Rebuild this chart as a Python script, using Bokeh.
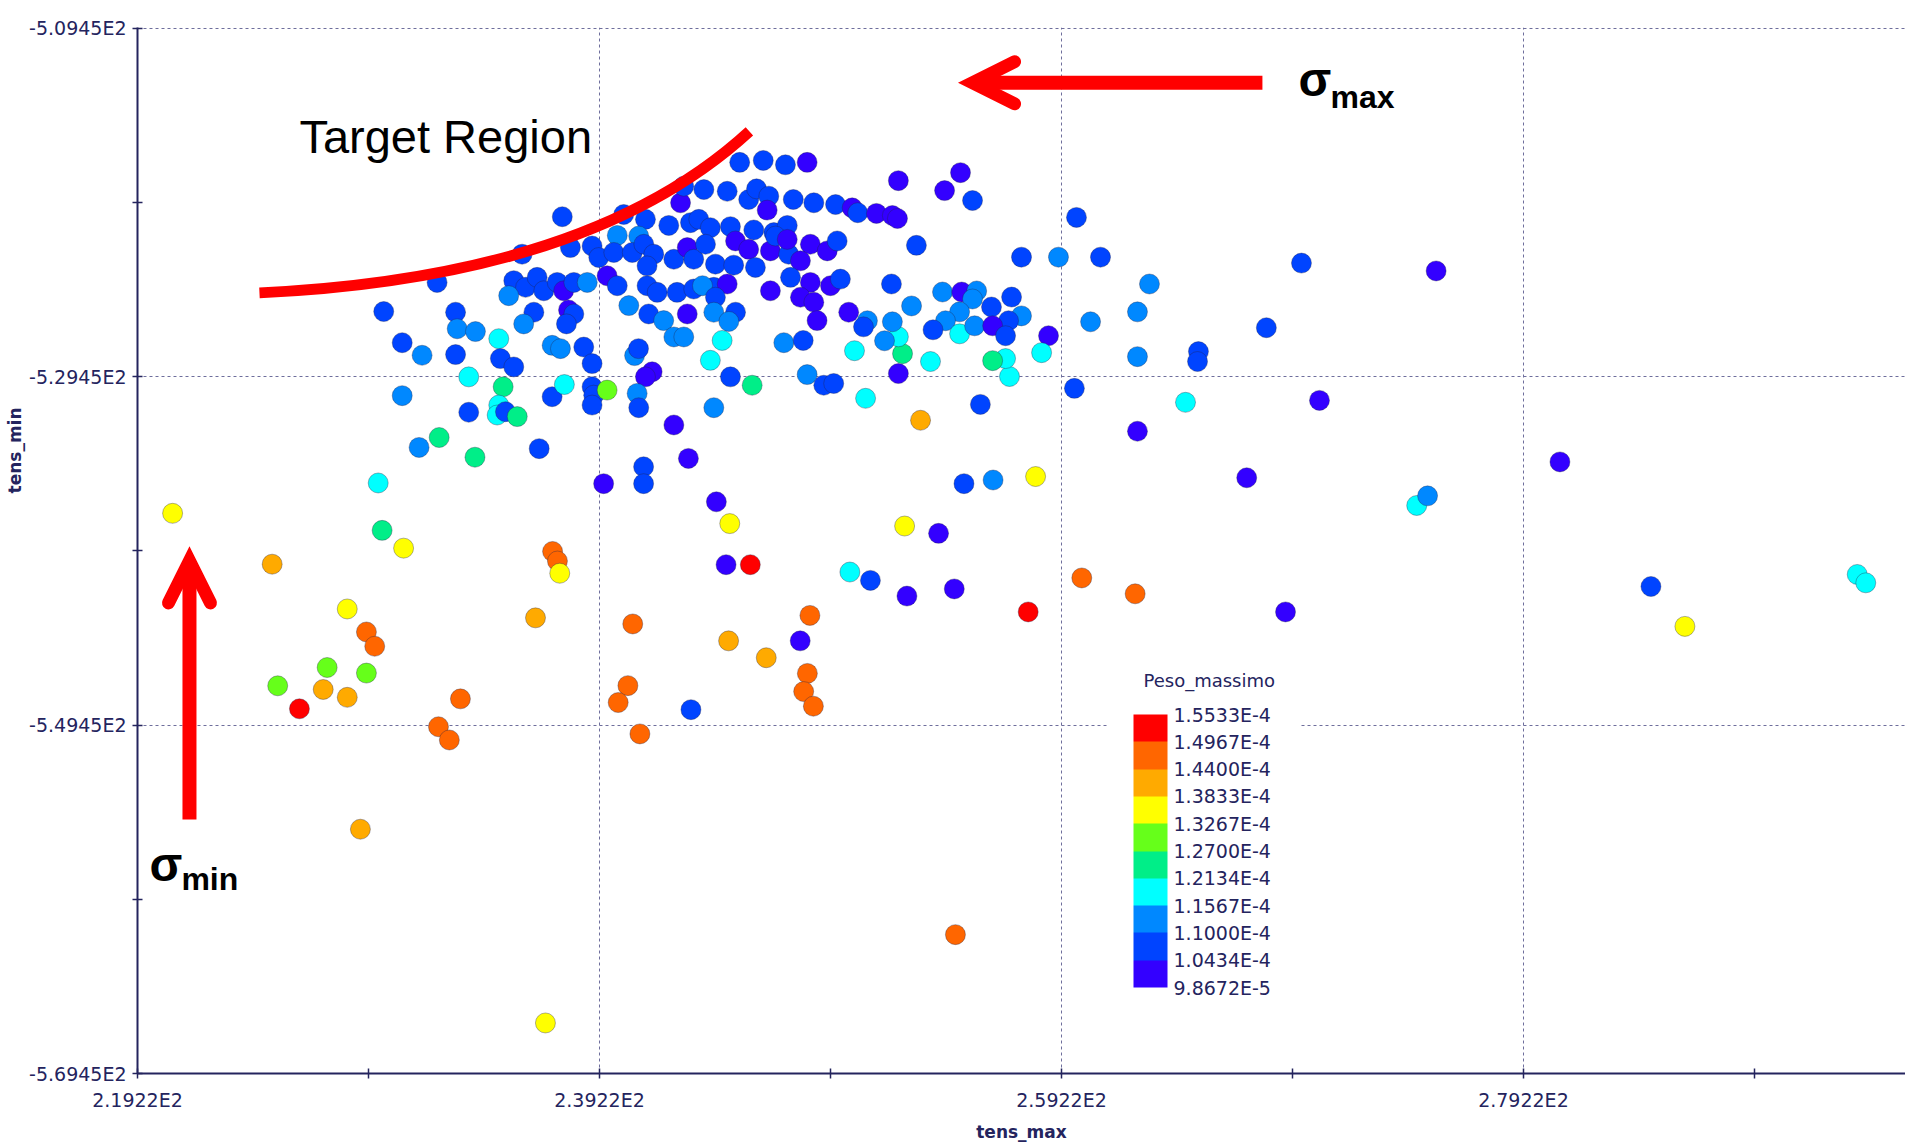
import math
from bokeh.plotting import figure
from bokeh.models import (Range1d, FixedTicker, CustomJSTickFormatter, LinearColorMapper,
                          ColorBar, ColumnDataSource, Label, Arrow, OpenHead, Title)
from bokeh.embed import file_html
from bokeh.resources import INLINE

# ---------------- data ----------------
X_MAJOR = [219.22, 239.22, 259.22, 279.22]
X_MINOR = [229.22, 249.22, 269.22, 289.22]
Y_MAJOR = [-569.45, -549.45, -529.45, -509.45]
Y_MINOR = [-559.45, -539.45, -519.45]
CB_TICKS = [9.8672e-5, 1.0434e-4, 1.1000e-4, 1.1567e-4, 1.2134e-4, 1.2700e-4,
            1.3267e-4, 1.3833e-4, 1.4400e-4, 1.4967e-4, 1.5533e-4]
PALETTE = ["#3300ff", "#0044ff", "#0088ff", "#00ffff", "#00ee88",
           "#66ff1a", "#ffff00", "#ffaa00", "#ff6600", "#ff0000"]

# dense core of the cloud
CORE_MAX = [
    245.29, 246.31, 247.27, 248.21, 243.74, 244.75, 245.68, 246.02,
    246.55, 246.48, 242.73, 242.87, 247.61, 248.50, 249.44, 250.16,
    237.61, 240.27, 241.21, 242.22, 243.16, 243.52, 244.02, 244.89,
    245.90, 246.77, 247.35, 239.99, 240.92, 235.87, 237.96, 238.90,
    239.19, 239.84, 240.64, 241.14, 241.57, 242.44, 243.02, 243.30,
    243.81, 244.24, 245.11, 245.68, 245.03, 245.97, 246.62, 246.84,
    247.41, 247.35, 248.35, 249.08, 249.51, 247.92, 241.28, 232.19,
    235.51, 236.02, 236.52, 236.81, 237.39, 237.67, 238.11, 238.69,
    235.29, 239.55, 239.99, 241.28, 241.72, 242.58, 243.30, 244.17,
    243.68, 244.75, 244.24, 246.62, 247.49, 248.35, 249.22, 249.65,
    247.92, 248.50, 250.01, 229.88, 232.99, 236.38, 235.94, 237.88,
    238.11, 237.79, 240.49, 241.35, 242.00, 243.02, 244.17, 245.11,
    244.82, 248.64, 233.06, 233.85, 230.68, 231.54, 232.99, 234.86,
    234.93, 235.51, 237.17, 237.53, 238.54, 238.90, 240.74, 240.91,
    241.50, 241.21, 242.44, 242.87, 244.53, 244.02, 247.20, 248.04,
    233.56, 230.68, 233.56, 235.05, 234.86, 234.79, 235.15, 235.66,
    232.28, 237.17, 237.70, 238.90, 238.97, 238.90, 239.55, 240.85,
    240.92, 242.44, 244.17, 244.89, 245.83, 248.21, 248.93, 249.36]
CORE_MIN = [
    -517.16, -517.05, -517.30, -517.16, -518.72, -518.82, -519.29, -518.68,
    -519.10, -519.90, -519.48, -518.53, -519.29, -519.48, -519.58, -519.77,
    -520.28, -520.15, -520.43, -520.78, -520.62, -520.43, -520.91, -520.85,
    -521.04, -521.19, -520.78, -521.35, -521.39, -522.43, -522.05, -521.96,
    -522.62, -522.33, -522.33, -521.86, -522.43, -522.72, -522.05, -522.72,
    -521.86, -523.00, -521.67, -522.15, -523.06, -523.19, -522.24, -521.39,
    -522.43, -521.58, -521.86, -522.24, -521.67, -522.81, -523.10, -524.05,
    -523.95, -524.33, -523.76, -524.53, -524.05, -524.53, -524.05, -524.05,
    -524.81, -523.67, -524.24, -524.24, -524.62, -524.62, -524.43, -524.33,
    -524.24, -524.14, -524.90, -524.53, -523.76, -524.05, -524.24, -523.86,
    -524.90, -525.19, -525.76, -525.72, -525.76, -525.76, -526.43, -525.63,
    -525.86, -526.43, -525.38, -525.86, -526.24, -525.86, -525.76, -525.76,
    -526.29, -526.24, -526.71, -526.87, -527.51, -528.23, -528.19, -527.28,
    -528.42, -528.90, -527.66, -527.85, -527.76, -528.71, -528.25, -527.85,
    -529.18, -529.47, -527.18, -527.18, -527.38, -528.52, -527.51, -527.38,
    -529.47, -530.55, -531.50, -530.04, -531.09, -531.66, -531.47, -531.75,
    -532.95, -530.61, -529.91, -530.04, -530.52, -531.09, -530.23, -530.42,
    -531.24, -532.23, -531.24, -529.47, -529.95, -529.34, -529.95, -529.85]
CORE_PESO = [
    1.072e-4, 1.072e-4, 1.072e-4, 1.015e-4, 1.072e-4, 1.072e-4, 1.072e-4, 1.072e-4,
    1.072e-4, 1.015e-4, 1.015e-4, 1.072e-4, 1.072e-4, 1.072e-4, 1.072e-4, 1.015e-4,
    1.072e-4, 1.072e-4, 1.072e-4, 1.072e-4, 1.072e-4, 1.072e-4, 1.072e-4, 1.072e-4,
    1.072e-4, 1.072e-4, 1.072e-4, 1.128e-4, 1.128e-4, 1.072e-4, 1.072e-4, 1.072e-4,
    1.072e-4, 1.072e-4, 1.072e-4, 1.072e-4, 1.072e-4, 1.072e-4, 1.015e-4, 1.072e-4,
    1.072e-4, 1.072e-4, 1.015e-4, 1.015e-4, 1.072e-4, 1.072e-4, 1.015e-4, 1.072e-4,
    1.072e-4, 1.015e-4, 1.015e-4, 1.015e-4, 1.072e-4, 1.015e-4, 1.072e-4, 1.072e-4,
    1.072e-4, 1.072e-4, 1.072e-4, 1.072e-4, 1.072e-4, 1.015e-4, 1.072e-4, 1.128e-4,
    1.128e-4, 1.015e-4, 1.072e-4, 1.072e-4, 1.072e-4, 1.072e-4, 1.072e-4, 1.072e-4,
    1.128e-4, 1.015e-4, 1.072e-4, 1.015e-4, 1.072e-4, 1.015e-4, 1.015e-4, 1.072e-4,
    1.015e-4, 1.015e-4, 1.015e-4, 1.072e-4, 1.072e-4, 1.072e-4, 1.128e-4, 1.015e-4,
    1.072e-4, 1.072e-4, 1.128e-4, 1.072e-4, 1.128e-4, 1.015e-4, 1.128e-4, 1.072e-4,
    1.128e-4, 1.015e-4, 1.128e-4, 1.128e-4, 1.072e-4, 1.128e-4, 1.072e-4, 1.185e-4,
    1.072e-4, 1.072e-4, 1.128e-4, 1.128e-4, 1.072e-4, 1.072e-4, 1.128e-4, 1.072e-4,
    1.015e-4, 1.015e-4, 1.128e-4, 1.128e-4, 1.185e-4, 1.185e-4, 1.128e-4, 1.072e-4,
    1.185e-4, 1.128e-4, 1.072e-4, 1.242e-4, 1.185e-4, 1.185e-4, 1.072e-4, 1.242e-4,
    1.242e-4, 1.072e-4, 1.185e-4, 1.072e-4, 1.072e-4, 1.072e-4, 1.298e-4, 1.128e-4,
    1.072e-4, 1.015e-4, 1.128e-4, 1.072e-4, 1.242e-4, 1.128e-4, 1.072e-4, 1.072e-4]

# eastern part of the cloud
EAST_MAX = [
    252.16, 254.85, 254.16, 255.37, 250.40, 251.21, 251.90, 252.12,
    252.94, 259.87, 257.49, 259.09, 260.91, 269.61, 263.03, 262.51,
    260.48, 268.09, 262.51, 265.15, 265.11, 264.59, 270.39, 262.51,
    259.78, 258.66, 258.36, 256.97, 256.80, 256.24, 255.71, 253.12,
    250.74, 252.16, 252.34, 252.16, 253.55, 251.56, 250.26, 251.86,
    252.73, 254.07, 254.90, 255.55, 255.37, 254.81, 254.20, 253.66,
    254.81, 255.46, 256.19, 257.06, 257.49, 256.93, 256.24, 256.80,
    250.82, 250.65, 251.90]
EAST_MIN = [
    -518.21, -517.75, -518.78, -519.35, -520.05, -520.09, -520.21, -520.38,
    -521.92, -520.32, -522.60, -522.60, -522.60, -522.94, -524.14, -525.74,
    -526.31, -526.65, -528.31, -528.02, -528.59, -530.93, -530.82, -532.59,
    -530.13, -527.11, -528.08, -529.45, -528.42, -528.54, -531.05, -531.96,
    -530.70, -529.28, -528.14, -527.17, -528.59, -527.40, -527.97, -524.14,
    -525.40, -524.60, -524.60, -524.54, -525.00, -525.74, -526.25, -526.77,
    -527.00, -526.54, -525.46, -524.89, -525.97, -526.25, -526.54, -527.11,
    -526.25, -526.60, -526.31]
EAST_PESO = [
    1.015e-4, 1.015e-4, 1.015e-4, 1.072e-4, 1.072e-4, 1.015e-4, 1.015e-4, 1.015e-4,
    1.072e-4, 1.072e-4, 1.072e-4, 1.128e-4, 1.072e-4, 1.072e-4, 1.128e-4, 1.128e-4,
    1.128e-4, 1.072e-4, 1.128e-4, 1.072e-4, 1.072e-4, 1.185e-4, 1.015e-4, 1.015e-4,
    1.072e-4, 1.015e-4, 1.185e-4, 1.185e-4, 1.185e-4, 1.242e-4, 1.072e-4, 1.412e-4,
    1.185e-4, 1.015e-4, 1.242e-4, 1.185e-4, 1.185e-4, 1.128e-4, 1.185e-4, 1.072e-4,
    1.128e-4, 1.128e-4, 1.015e-4, 1.128e-4, 1.128e-4, 1.128e-4, 1.128e-4, 1.072e-4,
    1.185e-4, 1.128e-4, 1.072e-4, 1.072e-4, 1.128e-4, 1.072e-4, 1.015e-4, 1.072e-4,
    1.128e-4, 1.072e-4, 1.128e-4]

# scattered points
SPARSE_MAX = [
    220.74, 225.05, 228.30, 229.13, 229.49, 227.43, 229.13, 225.29,
    227.26, 228.30, 226.23, 228.87, 229.64, 229.81, 230.74, 231.41,
    233.83, 232.25, 232.72, 233.20, 236.45, 236.61, 237.19, 237.40,
    237.50, 236.88, 239.40, 240.66, 240.45, 240.03, 240.97, 241.13,
    241.13, 243.07, 243.18, 244.28, 244.86, 244.70, 245.75, 244.81,
    246.44, 247.91, 248.33, 248.22, 248.06, 248.48, 250.06, 250.95,
    252.43, 252.53, 253.90, 254.58, 254.63, 255.00, 256.26, 258.10,
    257.78, 260.10, 262.41, 267.24, 268.92, 274.60, 275.07, 280.80,
    284.74, 286.21, 293.67, 294.04, 275.44]
SPARSE_MIN = [
    -537.30, -540.22, -542.79, -544.11, -544.93, -546.15, -546.47, -547.20,
    -547.41, -547.86, -548.52, -555.43, -535.56, -538.28, -539.30, -533.52,
    -534.08, -549.55, -550.31, -547.95, -543.30, -533.59, -539.49, -540.04,
    -540.74, -566.55, -535.60, -543.65, -547.19, -548.16, -549.96, -534.63,
    -535.60, -534.15, -548.57, -536.64, -537.89, -540.25, -540.25, -544.62,
    -545.59, -544.62, -543.16, -546.49, -547.53, -548.37, -540.67, -541.15,
    -538.03, -542.05, -538.45, -541.64, -561.48, -535.60, -535.39, -535.19,
    -542.96, -541.01, -541.92, -535.26, -542.96, -536.85, -536.30, -534.35,
    -541.50, -543.79, -540.81, -541.29, -523.39]
SPARSE_PESO = [
    1.355e-4, 1.412e-4, 1.355e-4, 1.468e-4, 1.468e-4, 1.298e-4, 1.298e-4, 1.298e-4,
    1.412e-4, 1.412e-4, 1.525e-4, 1.412e-4, 1.185e-4, 1.242e-4, 1.355e-4, 1.128e-4,
    1.242e-4, 1.468e-4, 1.468e-4, 1.468e-4, 1.412e-4, 1.072e-4, 1.468e-4, 1.468e-4,
    1.355e-4, 1.355e-4, 1.015e-4, 1.468e-4, 1.468e-4, 1.468e-4, 1.468e-4, 1.072e-4,
    1.072e-4, 1.015e-4, 1.072e-4, 1.015e-4, 1.355e-4, 1.015e-4, 1.525e-4, 1.412e-4,
    1.412e-4, 1.015e-4, 1.468e-4, 1.468e-4, 1.468e-4, 1.468e-4, 1.185e-4, 1.072e-4,
    1.355e-4, 1.015e-4, 1.015e-4, 1.015e-4, 1.468e-4, 1.072e-4, 1.128e-4, 1.355e-4,
    1.525e-4, 1.468e-4, 1.468e-4, 1.015e-4, 1.015e-4, 1.185e-4, 1.128e-4, 1.015e-4,
    1.072e-4, 1.355e-4, 1.185e-4, 1.185e-4, 1.015e-4]

assert len(CORE_MAX) == len(CORE_MIN) == len(CORE_PESO)
assert len(EAST_MAX) == len(EAST_MIN) == len(EAST_PESO)
assert len(SPARSE_MAX) == len(SPARSE_MIN) == len(SPARSE_PESO)

# ---------------- styling ----------------
NAVY = "#24245e"
GRID = "#6e6e9c"
RED = "#ff0000"
TICK_FONT = "DejaVu Sans"

fmt = CustomJSTickFormatter(code="""
    return tick.toExponential(4).toUpperCase().replace('E+', 'E');
""")

p = figure(width=1905, height=1144, output_backend="svg", toolbar_location=None,
           x_range=Range1d(219.22, 295.76), y_range=Range1d(-569.45, -509.42),
           min_border_left=137, min_border_right=0, min_border_top=27,
           min_border_bottom=66)
p.outline_line_color = None
p.background_fill_color = "white"
p.border_fill_color = "white"

p.xaxis.ticker = FixedTicker(ticks=X_MAJOR, minor_ticks=X_MINOR)
p.yaxis.ticker = FixedTicker(ticks=Y_MAJOR, minor_ticks=Y_MINOR)
for ax in (p.xaxis[0], p.yaxis[0]):
    ax.formatter = fmt
    ax.axis_line_color = NAVY
    ax.axis_line_width = 2
    ax.major_tick_line_color = NAVY
    ax.minor_tick_line_color = NAVY
    ax.major_tick_line_width = 1.5
    ax.minor_tick_line_width = 1.5
    ax.major_tick_in = 5
    ax.major_tick_out = 5
    ax.minor_tick_in = 5
    ax.minor_tick_out = 5
    ax.major_label_text_font = TICK_FONT
    ax.major_label_text_font_size = "19px"
    ax.major_label_text_color = NAVY
p.xaxis.major_label_standoff = 10
p.yaxis.major_label_standoff = 6
p.xaxis.axis_label = "tens_max"
p.xaxis.axis_label_text_font = TICK_FONT
p.xaxis.axis_label_text_font_size = "17px"
p.xaxis.axis_label_text_font_style = "bold"
p.xaxis.axis_label_text_color = NAVY
p.xaxis.axis_label_standoff = 8

# y-axis title, placed higher than the axis centre as in the original
p.add_layout(Title(text="tens_min", align="left", offset=580, standoff=4,
                   text_font=TICK_FONT, text_font_size="17px",
                   text_font_style="bold", text_color=NAVY), "left")

for g in (p.xgrid[0], p.ygrid[0]):
    g.grid_line_color = GRID
    g.grid_line_dash = "3 3"
    g.grid_line_width = 1

mapper = LinearColorMapper(palette=PALETTE, low=CB_TICKS[0], high=CB_TICKS[-1])

src = ColumnDataSource(dict(
    tens_max=CORE_MAX + EAST_MAX + SPARSE_MAX,
    tens_min=CORE_MIN + EAST_MIN + SPARSE_MIN,
    peso=CORE_PESO + EAST_PESO + SPARSE_PESO,
))
p.scatter("tens_max", "tens_min", source=src, marker="circle", size=20,
          fill_color={"field": "peso", "transform": mapper}, fill_alpha=1.0,
          line_color="#222244", line_alpha=0.35, line_width=1)

# red "target region" curve
p.quadratic(x0=[224.50], y0=[-524.65], x1=[245.71], y1=[-515.38],
            cx=[238.83], cy=[-523.77], line_color=RED, line_width=11)

p.add_layout(Label(x=226.23, y=-515.70, text="Target Region",
                   text_font="Liberation Sans", text_font_size="47px",
                   text_color="black", text_baseline="alphabetic"))

# sigma max arrow + text
p.add_layout(Arrow(end=OpenHead(size=42, line_color=RED, line_width=13,
                                line_cap="round", line_join="miter"),
                   x_start=267.92, y_start=-512.59, x_end=255.37, y_end=-512.59,
                   line_color=RED, line_width=14, line_cap="butt"))
p.add_layout(Label(x=269.48, y=-512.42, text="σ", text_font="Liberation Sans",
                   text_font_size="48px", text_font_style="bold", text_color="black",
                   text_baseline="alphabetic"))
p.add_layout(Label(x=270.87, y=-513.39, text="max", text_font="Liberation Sans",
                   text_font_size="32px", text_font_style="bold", text_color="black",
                   text_baseline="alphabetic"))

# sigma min arrow + text
p.add_layout(Arrow(end=OpenHead(size=42, line_color=RED, line_width=13,
                                line_cap="round", line_join="miter"),
                   x_start=221.47, y_start=-554.87, x_end=221.47, y_end=-540.03,
                   line_color=RED, line_width=14, line_cap="butt"))
p.add_layout(Label(x=219.74, y=-557.44, text="σ", text_font="Liberation Sans",
                   text_font_size="48px", text_font_style="bold", text_color="black",
                   text_baseline="alphabetic"))
p.add_layout(Label(x=221.12, y=-558.30, text="min", text_font="Liberation Sans",
                   text_font_size="32px", text_font_style="bold", text_color="black",
                   text_baseline="alphabetic"))

cb = ColorBar(color_mapper=mapper, orientation="vertical", width=34, height=273,
              location=(970, 60), padding=26,
              ticker=FixedTicker(ticks=CB_TICKS), formatter=fmt,
              major_label_text_font=TICK_FONT, major_label_text_font_size="19px",
              major_label_text_color=NAVY, label_standoff=6,
              major_tick_line_color=None, minor_tick_line_color=None,
              bar_line_color=None, background_fill_color="white",
              background_fill_alpha=1.0, border_line_color=None)
p.add_layout(cb)
p.add_layout(Label(x=262.77, y=-546.88, text="Peso_massimo", text_font=TICK_FONT,
                   text_font_size="18px", text_color=NAVY, text_baseline="middle"))

open("out.html", "w").write(file_html(p, INLINE))
